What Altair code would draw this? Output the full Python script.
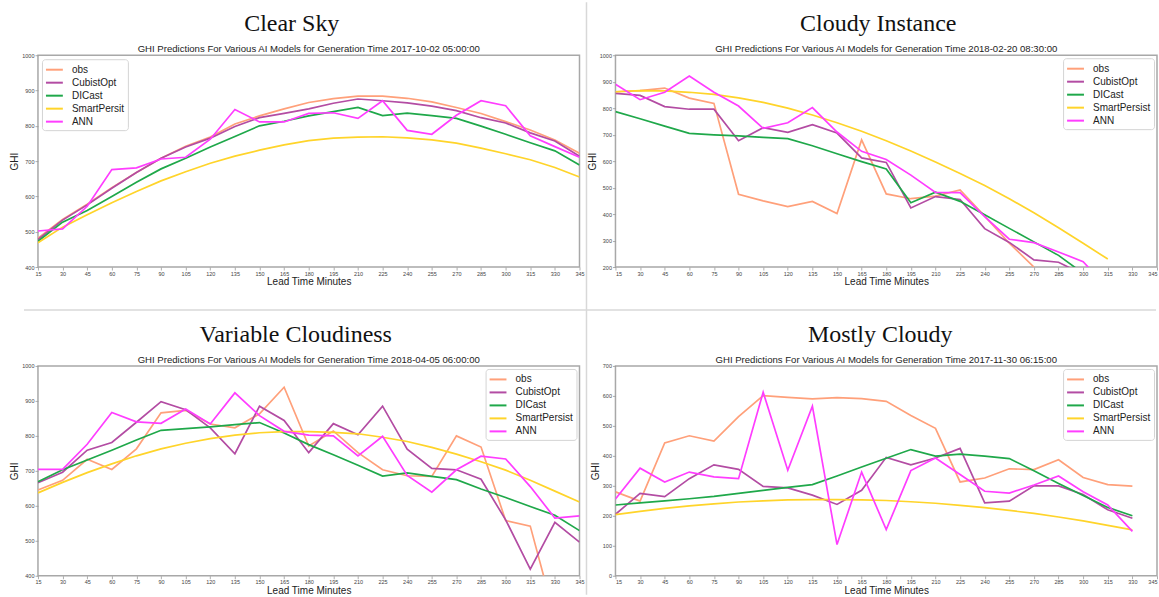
import altair as alt
import pandas as pd

# Lead times (minutes) shared by every panel
MINUTES = [15, 30, 45, 60, 75, 90, 105, 120, 135, 150, 165, 180,
           195, 210, 225, 240, 255, 270, 285, 300, 315, 330, 345]

LABELS = ["obs", "CubistOpt", "DICast", "SmartPersist", "ANN"]
LABELS_CLEAR = ["obs", "CubistOpt", "DICast", "SmartPersit", "ANN"]
COLORS = ["#ffa07a", "#b34ca3", "#1fa84a", "#ffd42a", "#ff3dff"]

# Clear Sky, generation time 2017-10-02 05:00:00
CLEAR_OBS = [482, 535, 578, 625, 668, 708, 742, 768, 805, 828, 848, 866,
             877, 884, 884, 878, 868, 852, 835, 812, 788, 760, 722]
CLEAR_CUBIST = [478, 533, 576, 623, 668, 708, 740, 765, 798, 823, 835, 848,
                864, 876, 871, 865, 856, 843, 823, 808, 780, 757, 714]
CLEAR_DICAST = [473, 527, 560, 600, 640, 678, 708, 740, 770, 800, 813, 828,
                840, 852, 829, 836, 829, 821, 799, 776, 752, 729, 689]
CLEAR_SMART = [469, 513, 548, 582, 614, 644, 670, 694, 714, 731, 746, 758,
               765, 768, 769, 766, 760, 751, 737, 721, 704, 682, 655]
CLEAR_ANN = [502, 508, 572, 676, 681, 706, 711, 762, 846, 811, 811, 835,
             837, 821, 871, 787, 776, 830, 871, 857, 772, 741, 711]

# Cloudy Instance, generation time 2018-02-20 08:30:00
CLOUDY_OBS = [862, 866, 876, 838, 818, 475, 450, 428, 448, 402, 680, 476,
              458, 468, 491, 392, 290, 200, None, None, None, None, None]
CLOUDY_CUBIST = [856, 848, 806, 796, 796, 677, 726, 709, 738, 706, 612, 595,
                 423, 466, 455, 345, 293, 227, 218, 172, None, None, None]
CLOUDY_DICAST = [787, 760, 732, 705, 699, 695, 690, 685, 658, 628, 598, 570,
                 443, 483, 448, 397, 346, 295, 244, 176, None, None, None]
CLOUDY_SMART = [862, 866, 865, 860, 852, 839, 822, 800, 774, 745, 713, 677,
                638, 597, 553, 508, 458, 405, 348, 290, 230, None, None]
CLOUDY_ANN = [890, 832, 860, 921, 860, 808, 724, 745, 802, 710, 637, 606,
              547, 482, 481, 390, 305, 292, 257, 220, 120, None, None]

# Variable Cloudiness, generation time 2018-04-05 06:00:00
VAR_OBS = [645, 673, 733, 704, 763, 866, 873, 834, 823, 863, 939, 771,
           814, 752, 703, 686, 684, 800, 768, 558, 542, 280, None]
VAR_CUBIST = [666, 696, 759, 781, 839, 898, 875, 823, 749, 885, 844, 752,
              835, 803, 885, 762, 707, 703, 676, 560, 419, 553, 496]
VAR_DICAST = [669, 703, 731, 759, 788, 816, 821, 826, 832, 838, 808, 775,
              746, 716, 685, 694, 684, 675, 648, 624, 598, 573, 529]
VAR_SMART = [637, 667, 695, 720, 743, 763, 779, 792, 802, 809, 812, 812,
             810, 806, 796, 784, 767, 748, 726, 702, 673, 642, 611]
VAR_ANN = [704, 704, 776, 867, 840, 836, 877, 834, 923, 858, 813, 802,
           800, 743, 799, 687, 639, 703, 742, 734, 655, 565, 571]

# Mostly Cloudy, generation time 2017-11-30 06:15:00
MC_OBS = [280, 249, 443, 467, 449, 531, 601, 595, 590, 594, 591, 582,
          535, 492, 313, 326, 357, 354, 387, 328, 304, 299, None]
MC_CUBIST = [205, 275, 264, 324, 370, 355, 298, 293, 269, 238, 285, 395,
             370, 393, 425, 243, 249, 300, 300, 271, 220, 192, None]
MC_DICAST = [236, 243, 250, 257, 265, 275, 285, 295, 304, 333, 363, 392,
             421, 399, 406, 399, 391, 350, 308, 268, 228, 200, None]
MC_SMART = [204, 215, 225, 233, 240, 246, 250, 253, 254, 254, 253, 251,
            247, 242, 235, 227, 218, 208, 196, 183, 168, 153, None]
MC_ANN = [256, 359, 313, 346, 330, 324, 612, 352, 566, 104, 346, 154,
          351, 393, 338, 282, 276, 303, 333, 280, 236, 148, None]

SANS = "Liberation Sans"
SERIF = "Liberation Serif"


def panel(name, stamp, series, labels, y_min, y_max, width, height,
          corner, name_x, flush=False, extras=()):
    color = alt.Color(
        "series:N",
        scale=alt.Scale(domain=labels, range=COLORS),
        legend=alt.Legend(
            title=None, orient=corner, offset=4 if corner == "top-left" else 3,
            symbolType="M-1,0H1.6", symbolSize=169, symbolStrokeWidth=2,
            labelFont=SANS, labelFontSize=10, labelColor="#222",
            labelOffset=12, padding=3, rowPadding=0,
            fillColor="white", strokeColor="#d4d4d4", cornerRadius=3,
        ),
    )
    x = alt.X("minute:Q",
              scale=alt.Scale(domain=[15, 345], nice=False, zero=False),
              axis=alt.Axis(values=MINUTES, title="Lead Time Minutes",
                            labelFlush=flush, titlePadding=0))
    y = alt.Y("ghi:Q",
              scale=alt.Scale(domain=[y_min, y_max], nice=False, zero=False),
              axis=alt.Axis(values=list(range(y_min, y_max + 1, 100)),
                            format="d", title="GHI", titlePadding=2))
    layers = []
    for lab, vals in zip(labels, series):
        df = pd.DataFrame({"minute": MINUTES, "ghi": vals, "series": lab}).dropna()
        layers.append(
            alt.Chart(df).mark_line(clip=True, strokeWidth=1.7)
            .encode(x=x, y=y, color=color)
        )
    heads = pd.DataFrame({"t": [name]})
    heading = (
        alt.Chart(heads)
        .mark_text(font=SERIF, fontSize=24, color="#111",
                   align="center", baseline="middle")
        .encode(text="t:N", x=alt.value(name_x), y=alt.value(-31))
    )
    subs = pd.DataFrame(
        {"t": [f"GHI Predictions For Various AI Models for Generation Time {stamp}"]})
    subheading = (
        alt.Chart(subs)
        .mark_text(font=SANS, fontSize=9.6, color="#222",
                   align="center", baseline="alphabetic")
        .encode(text="t:N", x=alt.value(width / 2), y=alt.value(-3))
    )
    layers += [heading, subheading]
    layers.extend(extras)
    return alt.layer(*layers).properties(width=width, height=height)


# thin separators between the four panels
one = pd.DataFrame({"k": [0]})
v_sep = alt.Chart(one).mark_rule(color="#d8d8d8", strokeWidth=1.5).encode(
    x=alt.value(549), y=alt.value(-53), y2=alt.value(540))
h_sep = alt.Chart(one).mark_rule(color="#d8d8d8", strokeWidth=1.5).encode(
    x=alt.value(-14), x2=alt.value(1119), y=alt.value(255))

p1 = panel("Clear Sky", "2017-10-02 05:00:00",
           [CLEAR_OBS, CLEAR_CUBIST, CLEAR_DICAST, CLEAR_SMART, CLEAR_ANN],
           LABELS_CLEAR, 400, 1000, 542, 212, "top-left", 254,
           extras=(v_sep, h_sep))
p2 = panel("Cloudy Instance", "2018-02-20 08:30:00",
           [CLOUDY_OBS, CLOUDY_CUBIST, CLOUDY_DICAST, CLOUDY_SMART, CLOUDY_ANN],
           LABELS, 200, 1000, 542, 212, "top-right", 263, flush=True)
p3 = panel("Variable Cloudiness", "2018-04-05 06:00:00",
           [VAR_OBS, VAR_CUBIST, VAR_DICAST, VAR_SMART, VAR_ANN],
           LABELS, 400, 1000, 542, 210, "top-right", 258)
p4 = panel("Mostly Cloudy", "2017-11-30 06:15:00",
           [MC_OBS, MC_CUBIST, MC_DICAST, MC_SMART, MC_ANN],
           LABELS, 0, 700, 542, 210, "top-right", 265, flush=True)

chart = (
    alt.concat(p1, p2, p3, p4, columns=2, bounds="flush",
               spacing={"row": 99, "column": 36})
    .resolve_scale(color="independent")
    .properties(padding={"left": 9, "top": 0, "right": 0, "bottom": 0},
                background="white")
    .configure_view(stroke="#a8a8a8", strokeWidth=1.5)
    .configure_axis(domain=False, grid=False,
                    labelFont=SANS, labelFontSize=5.5, labelColor="#444",
                    labelPadding=1,
                    tickColor="#999", tickSize=3, tickWidth=0.8,
                    titleFont=SANS, titleFontSize=10, titleFontWeight="normal",
                    titleColor="#222")
)

chart.save("out.html", embed_options={"renderer": "svg", "actions": False})
